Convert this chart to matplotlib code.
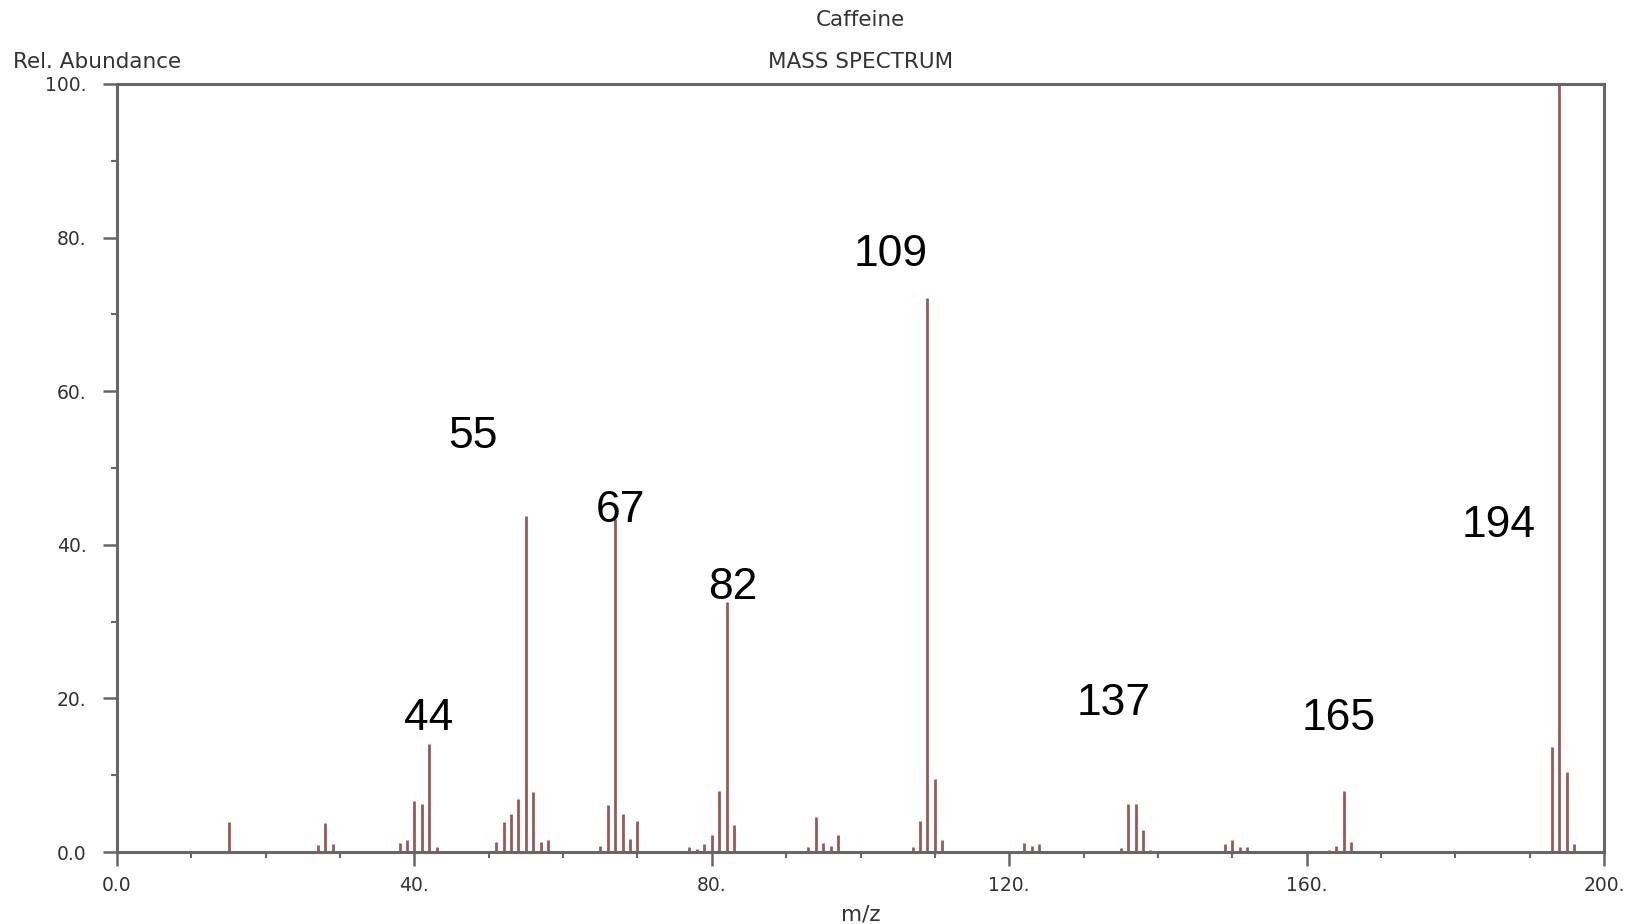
import numpy as np
import matplotlib
matplotlib.use("Agg")
import matplotlib.pyplot as plt
from matplotlib.ticker import MultipleLocator, FuncFormatter

# caffeine EI mass spectrum
mz = [15, 27, 28, 29,
      38, 39, 40, 41, 42, 43,
      51, 52, 53, 54, 55, 56, 57, 58,
      65, 66, 67, 68, 69, 70,
      77, 78, 79, 80, 81, 82, 83,
      93, 94, 95, 96, 97,
      107, 108, 109, 110, 111,
      122, 123, 124,
      135, 136, 137, 138, 139,
      149, 150, 151, 152,
      163, 164, 165, 166,
      193, 194, 195, 196]
abund = [3.9, 0.9, 3.8, 1.1,
         1.2, 1.6, 6.7, 6.2, 14.0, 0.7,
         1.3, 3.9, 5.0, 6.9, 43.8, 7.8, 1.3, 1.5,
         0.8, 6.1, 43.3, 5.0, 1.7, 4.1,
         0.7, 0.4, 1.1, 2.2, 8.0, 32.6, 3.5,
         0.7, 4.6, 1.2, 0.8, 2.2,
         0.7, 4.0, 72.2, 9.5, 1.5,
         1.2, 0.8, 1.0,
         0.5, 6.3, 6.3, 2.9, 0.3,
         1.0, 1.6, 0.6, 0.6,
         0.3, 0.8, 7.9, 1.3,
         13.7, 100.0, 10.4, 1.0]

# peak labels and where they sit (data coords)
lab_text = ["44", "55", "67", "82", "109", "137", "165", "194"]
lab_x = [41.9, 47.9, 67.7, 82.8, 104.1, 134.1, 164.3, 185.8]
lab_y = [17.4, 54.1, 44.5, 34.4, 77.8, 19.4, 17.4, 42.5]

small = dict(family="DejaVu Sans", fontsize=13.5, color="#333333")
head = dict(family="DejaVu Sans", fontsize=15.5, color="#333333")
axcol = "#666666"

fig = plt.figure(figsize=(16.38, 9.24), dpi=100)
ax = fig.add_axes([117/1638, 1-852/924, (1604-117)/1638, (852-84)/924])

ax.vlines(mz, 0, abund, color="#9a5858", linewidth=2)

for t, x, y in zip(lab_text, lab_x, lab_y):
  ax.text(x, y, t, ha="center", va="center", fontsize=32,
          family="Liberation Sans", color="black")

ax.set_xlim(0, 200)
ax.set_ylim(0, 100)

for s in ax.spines.values():
  s.set_color(axcol)
  s.set_linewidth(2.2)

ax.xaxis.set_major_locator(MultipleLocator(40))
ax.xaxis.set_minor_locator(MultipleLocator(10))
ax.yaxis.set_major_locator(MultipleLocator(20))
ax.yaxis.set_minor_locator(MultipleLocator(10))

fmt = FuncFormatter(lambda v, p: "0.0" if v == 0 else "%d." % v)
ax.xaxis.set_major_formatter(fmt)
ax.yaxis.set_major_formatter(fmt)

ax.tick_params(which="major", direction="out", length=10, width=1.8,
               color=axcol)
ax.tick_params(axis="x", which="major", pad=7)
ax.tick_params(axis="y", which="major", pad=12)
ax.tick_params(which="minor", direction="out", length=4, width=1.5,
               color=axcol)
for lbl in ax.get_xticklabels() + ax.get_yticklabels():
  lbl.set_family(small["family"])
  lbl.set_fontsize(small["fontsize"])
  lbl.set_color(small["color"])

xc = (117 + 1604) / 2 / 1638
fig.text(xc, 1-20/924, "Caffeine", ha="center", va="center", **head)
fig.text(xc, 1-62/924, "MASS SPECTRUM", ha="center", va="center", **head)
fig.text(13/1638, 1-62/924, "Rel. Abundance", ha="left", va="center", **head)
fig.text(xc, 1-914/924, "m/z", ha="center", va="center", **head)

plt.savefig("out.png", dpi=100)
